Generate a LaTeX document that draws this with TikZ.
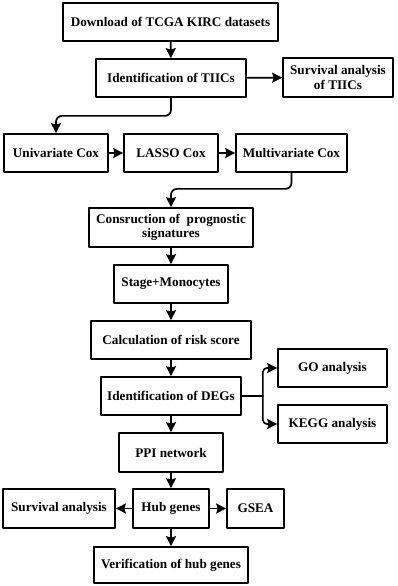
\documentclass[tikz,border=0pt]{standalone}
\usepackage{fontspec}
\setmainfont{Liberation Serif}
\usetikzlibrary{arrows.meta}

\begin{document}
\begin{tikzpicture}[x=1pt, y=-1pt, line cap=round, line join=round,
    box/.style={draw, line width=1.7pt, rectangle, inner sep=0pt, minimum height=38pt,
      align=center, font=\bfseries\fontsize{13.2}{14.5}\selectfont},
    arr/.style={line width=1.7pt, -{Stealth[length=10pt, width=10pt, inset=1.5pt]}}]
    \useasboundingbox (0,0) rectangle (398,586);
    % top part
    \node[box, minimum width=215pt] (dl) at (170.5,22) {Download of TCGA KIRC datasets};
    \node[box, minimum width=150pt] (tiic) at (171,78) {Identification of TIICs};
    \node[box, minimum width=110pt, minimum height=39pt] (survt) at (338,77.5) {Survival analysis\\of TIICs};
    \node[box, minimum width=104pt] (uni) at (56,153) {Univariate Cox};
    \node[box, minimum width=94pt] (lasso) at (171,153) {LASSO Cox};
    \node[box, minimum width=111pt] (multi) at (291.5,153) {Multivariate Cox};
    % middle column
    \node[box, minimum width=164pt, minimum height=39pt] (cons) at (171,227.5) {Consruction of~ prognostic\\signatures};
    \node[box, minimum width=114pt] (stage) at (171,284) {Stage+Monocytes};
    \node[box, minimum width=160pt] (calc) at (171,340) {Calculation of risk score};
    \node[box, minimum width=140pt] (degs) at (171,396) {Identification of DEGs};
    \node[box, minimum width=109pt] (go) at (332.5,368) {GO analysis};
    \node[box, minimum width=109pt] (kegg) at (332.5,424) {KEGG analysis};
    \node[box, minimum width=104pt, minimum height=39pt] (ppi) at (171,452.5) {PPI network};
    \node[box, minimum width=76pt, minimum height=39pt] (hub) at (171,508.5) {Hub genes};
    \node[box, minimum width=112pt, minimum height=39pt] (surv) at (59,508.5) {Survival analysis};
    \node[box, minimum width=57pt, minimum height=39pt] (gsea) at (255.5,508.5) {GSEA};
    \node[box, minimum width=154pt, minimum height=36pt] (verif) at (171,565) {Verification of hub genes};
    % arrows
    \foreach \a/\b in {dl/tiic, tiic/survt, uni/lasso, lasso/multi, cons/stage, stage/calc,
      calc/degs, degs/ppi, ppi/hub, hub/surv, hub/gsea, hub/verif}
      \draw[arr] (\a) -- (\b);
    \draw[arr, rounded corners=6pt] (tiic.south) -- ++(0,18) -| (uni.north);
    \draw[arr, rounded corners=6pt] (multi.south) -- ++(0,16) -| (cons.north);
    \draw[line width=1.7pt] (degs.east) -- ++(21,0) coordinate (split);
    \draw[arr, rounded corners=4pt] (split) |- (go.west);
    \draw[arr, rounded corners=4pt] (split) |- (kegg.west);
  \end{tikzpicture}
\end{document}
